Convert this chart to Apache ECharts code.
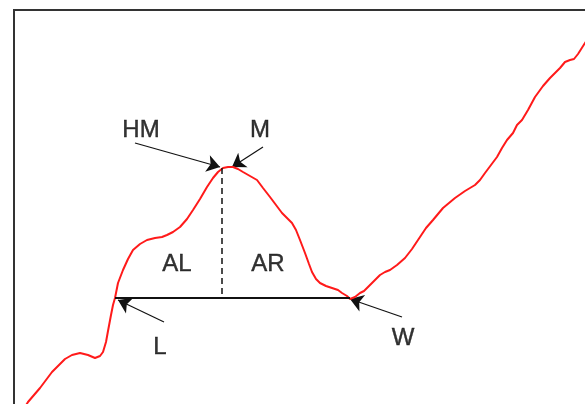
<!DOCTYPE html>
<html>
<head>
<meta charset="utf-8">
<script src="https://cdn.jsdelivr.net/npm/echarts@6/dist/echarts.min.js"></script>
<style>
  html, body { margin: 0; padding: 0; background: #fff; }
  #chart { width: 585px; height: 404px; }
</style>
</head>
<body>
<div id="chart"></div>
<script>
// signal trace (x, y)
const curveX = [8, 14, 26, 38, 51, 58, 66, 74, 81, 86, 89, 92, 94, 97, 99, 101, 104, 109, 114, 119,
  126, 133, 141, 148, 153, 159, 166, 173, 179, 186, 193, 199, 204, 209, 214, 219, 224, 229, 236, 243,
  249, 256, 262, 268, 274, 278, 282, 286, 291, 295, 298, 302, 306, 312, 318, 324, 328, 333, 336, 341,
  346, 350, 354, 360, 366, 371, 376, 383, 391, 398, 404, 412, 419, 429, 435, 441, 451, 461, 466, 471,
  477, 483, 488, 493, 499, 503, 508, 514, 521, 529, 536, 541, 546, 551, 556, 560, 564, 571, 576];
const curveY = [48, 58, 72, 88, 101, 105, 107, 105, 102, 104, 108, 118, 129, 145, 155, 162, 177, 190, 201, 210,
  216, 220, 222, 223, 225, 228, 233, 241, 250, 261, 273, 282, 288, 292, 293, 293, 291, 288, 284, 280,
  272, 263, 255, 247, 241, 237, 230, 220, 207, 196, 188, 181, 177, 174, 172, 170, 167, 164, 161, 163,
  167, 169, 173, 179, 185, 188, 190, 195, 202, 211, 220, 232, 240, 252, 257, 262, 269, 275, 280, 287,
  295, 303, 312, 320, 327, 335, 340, 350, 363, 374, 382, 387, 392, 398, 400, 401, 406, 417, 424];

// baseline L -> W and the peak marker
const baseLine = [[101, 162], [336, 162]];
const peakLine = [[208, 292], [208, 162]];

// annotation arrows: [from, to]
const arrows = [
  [[121, 317], [206, 293]],
  [[249, 313], [218, 293]],
  [[150, 138], [104, 160]],
  [[388, 143], [336, 161]]
];

const labelNames = ['HM', 'M', 'AL', 'AR', 'L', 'W'];
const labelPos = [[127, 330], [246, 330], [163, 196], [254, 196], [146, 113], [389, 122]];

const chart = echarts.init(document.getElementById('chart'));

chart.setOption({
  animation: false,
  grid: {
    left: 14, top: 10, width: 650, height: 450,
    outerBoundsMode: 'none',
    containLabel: false,
    show: true, borderColor: '#333', borderWidth: 2, backgroundColor: 'transparent'
  },
  xAxis: { type: 'value', min: 0, max: 650, show: false },
  yAxis: { type: 'value', min: 0, max: 450, show: false },
  series: [
    {
      type: 'line',
      data: curveX.map((x, i) => [x, curveY[i]]),
      showSymbol: false,
      smooth: false,
      lineStyle: { color: '#ff1a1a', width: 2 }
    },
    {
      type: 'line',
      data: baseLine,
      showSymbol: false,
      lineStyle: { color: '#111', width: 2 }
    },
    {
      type: 'line',
      data: peakLine,
      showSymbol: false,
      lineStyle: { color: '#111', width: 1.5, type: [6, 4] }
    },
    {
      type: 'lines',
      coordinateSystem: 'cartesian2d',
      symbol: ['none', 'arrow'],
      symbolSize: 13,
      lineStyle: { color: '#111', width: 1.2, opacity: 1 },
      itemStyle: { color: '#111' },
      data: arrows.map(a => ({ coords: a }))
    },
    {
      type: 'scatter',
      symbol: 'circle',
      symbolSize: 1,
      itemStyle: { color: 'rgba(0,0,0,0)' },
      label: {
        show: true,
        position: 'inside',
        formatter: p => labelNames[p.dataIndex],
        fontFamily: 'Liberation Sans, Arial, sans-serif',
        fontSize: 24,
        color: '#000',
        textBorderColor: '#000',
        textBorderWidth: 0.4
      },
      data: labelPos
    }
  ]
});

window.addEventListener('resize', () => chart.resize());
</script>
</body>
</html>
